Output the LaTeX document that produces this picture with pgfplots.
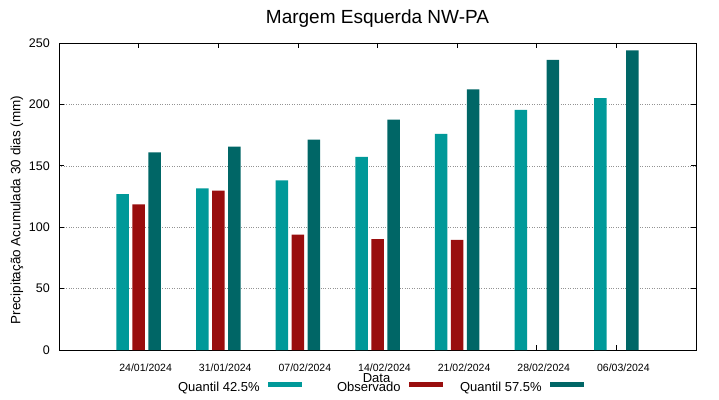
\documentclass[border=0pt]{standalone}
\usepackage{fontspec}
\setmainfont{Liberation Sans}
\usepackage{pgfplots}
\pgfplotsset{compat=1.18}
\definecolor{qa}{RGB}{0,153,153}
\definecolor{obs}{RGB}{153,14,14}
\definecolor{qb}{RGB}{0,102,102}
\pgfplotsset{/pgfplots/ybar legend/.style={/pgfplots/legend image code/.code={\fill[##1] (0pt,0pt) rectangle (34pt,5pt);}}}
\newcommand{\lgtext}[1]{\makebox[79pt][r]{\rule[-3pt]{0pt}{13pt}#1}}
\begin{document}
\begin{tikzpicture}[x=1pt,y=1pt]
\begin{axis}[
  at={(59pt,49pt)}, anchor=south west,
  scale only axis, width=637pt, height=307pt,
  xmin=-1, xmax=7, ymin=0, ymax=250,
  ybar, bar width=12.5pt,
  xtick={0,...,6},
  xticklabels={24/01/2024,31/01/2024,07/02/2024,14/02/2024,21/02/2024,28/02/2024,06/03/2024},
  ytick={0,50,100,150,200,250},
  tick align=inside, major tick length=5pt,
  tick style={black, line width=0.6pt},
  axis line style={black, line width=0.8pt},
  ymajorgrids, grid style={dotted, gray!85, line width=0.5pt},
  /pgf/number format/assume math mode=true,
  xticklabel style={font=\fontsize{10.5}{12}\selectfont, anchor=base, inner sep=0pt, yshift=-21pt, xshift=7pt},
  yticklabel style={font=\fontsize{12.5}{14}\selectfont, anchor=east, inner sep=0pt, xshift=-9pt},
  ylabel={Precipitação Acumulada 30 dias (mm)},
  every axis y label/.style={at={(axis description cs:-0.0659,0.456)}, rotate=90, anchor=center, font=\fontsize{13.5}{15}\selectfont},
  xlabel={Data},
  every axis x label/.style={at={(axis description cs:0.4985,0)}, anchor=base, yshift=-32pt, font=\fontsize{13}{15}\selectfont},
  title={Margem Esquerda NW-PA},
  every axis title/.style={at={(axis description cs:0.5,1)}, anchor=base, yshift=19.7pt, font=\fontsize{19}{22}\selectfont},
  legend plot pos=right,
  legend columns=3,
  legend style={draw=none, fill=none, inner sep=0pt, outer sep=0pt,
    at={(axis description cs:0.191,-0.1033)}, anchor=north west,
    font=\fontsize{13}{15}\selectfont,
    nodes={inner sep=0pt},
    column sep=0pt,
    /tikz/every odd column/.style={column sep=8pt},
    /tikz/every even column/.style={column sep=20pt}},
]
\addplot[fill=qa, draw=none, bar shift=-16pt] coordinates {
(0,127) (1,131.7) (2,138.2) (3,157.2) (4,176) (5,195.5) (6,205.2)};
\addlegendentry{\lgtext{Quantil 42.5\%}}
\addplot[fill=obs, draw=none, bar shift=0pt] coordinates {
(0,118.6) (1,129.7) (2,94) (3,90.2) (4,89.6)};
\addlegendentry{\lgtext{Observado}}
\addplot[fill=qb, draw=none, bar shift=16pt] coordinates {
(0,161) (1,165.6) (2,171.3) (3,187.6) (4,212.3) (5,236.2) (6,244)};
\addlegendentry{\lgtext{Quantil 57.5\%}}
\end{axis}
\pgfresetboundingbox
\path[use as bounding box] (0,0) rectangle (719,399);
\end{tikzpicture}
\end{document}
